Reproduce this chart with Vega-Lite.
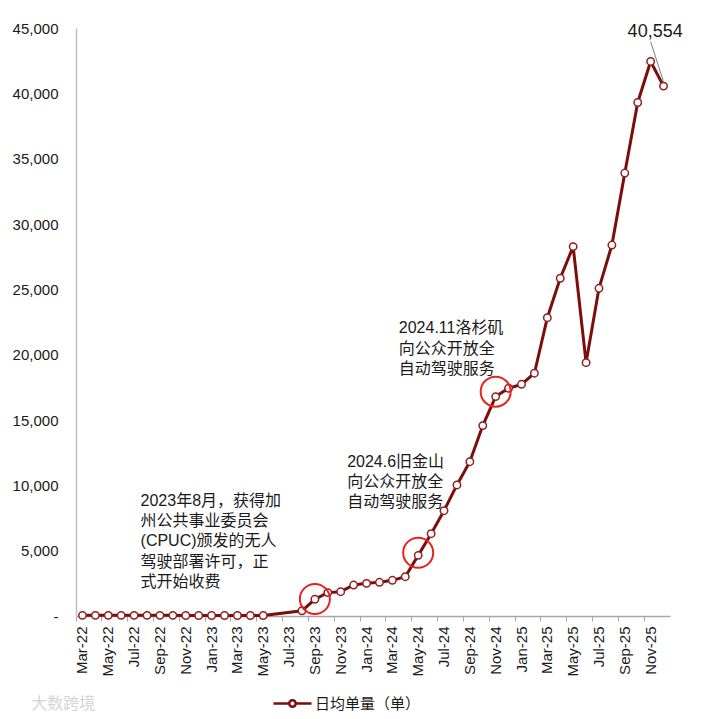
{
  "$schema": "https://vega.github.io/schema/vega-lite/v6.json",
  "width": 594,
  "height": 588,
  "autosize": "none",
  "padding": {"left": 76, "top": 28, "right": 31, "bottom": 103},
  "background": "white",
  "config": {
    "view": {"stroke": null},
    "font": "Liberation Sans, Noto Sans CJK SC",
    "axis": {"labelFont": "Liberation Sans", "labelColor": "#1a1a1a", "grid": false, "title": null}
  },
  "datasets": {
    "orders": [
      {"month": "Mar-22", "value": 50}, {"month": "Apr-22", "value": 50}, {"month": "May-22", "value": 50},
      {"month": "Jun-22", "value": 50}, {"month": "Jul-22", "value": 50}, {"month": "Aug-22", "value": 50},
      {"month": "Sep-22", "value": 50}, {"month": "Oct-22", "value": 50}, {"month": "Nov-22", "value": 40},
      {"month": "Dec-22", "value": 40}, {"month": "Jan-23", "value": 40}, {"month": "Feb-23", "value": 40},
      {"month": "Mar-23", "value": 40}, {"month": "Apr-23", "value": 40}, {"month": "May-23", "value": 40},
      {"month": "Aug-23", "value": 400}, {"month": "Sep-23", "value": 1280}, {"month": "Oct-23", "value": 1790},
      {"month": "Nov-23", "value": 1860}, {"month": "Dec-23", "value": 2370}, {"month": "Jan-24", "value": 2500},
      {"month": "Feb-24", "value": 2580}, {"month": "Mar-24", "value": 2730}, {"month": "Apr-24", "value": 3010},
      {"month": "May-24", "value": 4640}, {"month": "Jun-24", "value": 6300}, {"month": "Jul-24", "value": 8060},
      {"month": "Aug-24", "value": 10030}, {"month": "Sep-24", "value": 11810}, {"month": "Oct-24", "value": 14570},
      {"month": "Nov-24", "value": 16790}, {"month": "Dec-24", "value": 17430}, {"month": "Jan-25", "value": 17730},
      {"month": "Feb-25", "value": 18580}, {"month": "Mar-25", "value": 22830}, {"month": "Apr-25", "value": 25850},
      {"month": "May-25", "value": 28270}, {"month": "Jun-25", "value": 19390}, {"month": "Jul-25", "value": 25080},
      {"month": "Aug-25", "value": 28390}, {"month": "Sep-25", "value": 33900}, {"month": "Oct-25", "value": 39300},
      {"month": "Nov-25", "value": 42440}, {"month": "Dec-25", "value": 40554}
    ],
    "circles": [
      {"month": "Sep-23", "value": 1300},
      {"month": "May-24", "value": 4840},
      {"month": "Nov-24", "value": 17170}
    ],
    "notes": [
      {"month": "Aug-22", "value": 8824, "text": "2023年8月，获得加\n州公共事业委员会\n(CPUC)颁发的无人\n驾驶部署许可，正\n式开始收费"},
      {"month": "Dec-23", "value": 11808, "text": "2024.6旧金山\n向公众开放全\n自动驾驶服务"},
      {"month": "Apr-24", "value": 22017, "text": "2024.11洛杉矶\n向公众开放全\n自动驾驶服务"}
    ],
    "leader": [
      {"month": "Nov-25", "value": 43950},
      {"month": "Dec-25", "value": 40890}
    ],
    "lastlabel": [
      {"month": "Nov-25", "value": 44717, "text": "40,554"}
    ],
    "watermark": [
      {"month": "Apr-22", "value": -6700, "text": "大数跨境"}
    ]
  },
  "encoding": {
    "x": {
      "field": "month", "type": "ordinal", "sort": null, "bandPosition": 0.5,
      "scale": {"type": "band", "paddingInner": 0, "paddingOuter": 0,
        "domain": ["Mar-22","Apr-22","May-22","Jun-22","Jul-22","Aug-22","Sep-22","Oct-22","Nov-22","Dec-22","Jan-23","Feb-23","Mar-23","Apr-23","May-23","Jun-23","Jul-23","Aug-23","Sep-23","Oct-23","Nov-23","Dec-23","Jan-24","Feb-24","Mar-24","Apr-24","May-24","Jun-24","Jul-24","Aug-24","Sep-24","Oct-24","Nov-24","Dec-24","Jan-25","Feb-25","Mar-25","Apr-25","May-25","Jun-25","Jul-25","Aug-25","Sep-25","Oct-25","Nov-25","Dec-25"]},
      "axis": {
        "values": ["Mar-22","May-22","Jul-22","Sep-22","Nov-22","Jan-23","Mar-23","May-23","Jul-23","Sep-23","Nov-23","Jan-24","Mar-24","May-24","Jul-24","Sep-24","Nov-24","Jan-25","Mar-25","May-25","Jul-25","Sep-25","Nov-25"],
        "labelAngle": -90, "labelAlign": "right", "labelBaseline": "middle",
        "labelFontSize": 15, "labelPadding": 5, "labelOverlap": false,
        "ticks": true, "tickSize": 5, "tickColor": "#a6a6a6", "bandPosition": 0,
        "domainColor": "#a6a6a6", "domainWidth": 1.5
      }
    },
    "y": {
      "field": "value", "type": "quantitative",
      "scale": {"domain": [0, 45000], "nice": false, "zero": true},
      "axis": {
        "values": [0, 5000, 10000, 15000, 20000, 25000, 30000, 35000, 40000, 45000],
        "labelExpr": "datum.value == 0 ? '-\u00a0\u00a0' : format(datum.value, ',')",
        "labelFontSize": 15, "ticks": false, "labelPadding": 18,
        "domainColor": "#bfbfbf", "domainWidth": 1.5
      }
    }
  },
  "layer": [
    {
      "data": {"name": "orders"},
      "mark": {"type": "line", "strokeWidth": 3},
      "encoding": {
        "stroke": {
          "datum": "日均单量（单）",
          "scale": {"range": ["#7b0d0d"]},
          "legend": {
            "title": null, "orient": "none", "legendX": 196, "legendY": 655,
            "symbolType": "M-1,0H-0.17M0.17,0H1M-0.17,0A0.17,0.17,0,1,0,0.17,0A0.17,0.17,0,1,0,-0.17,0Z",
            "symbolSize": 1444, "symbolStrokeWidth": 2.5, "symbolFillColor": "white",
            "labelFontSize": 15, "labelFont": "Noto Sans CJK SC", "labelColor": "#1a1a1a", "labelOffset": 2,
            "encode": {"symbols": {"update": {"fill": {"value": "white"}, "stroke": {"value": "#7b0d0d"}, "strokeWidth": {"value": 2.5}}}}
          }
        }
      }
    },
    {
      "data": {"name": "orders"},
      "mark": {"type": "point", "shape": "circle", "filled": true, "fill": "white", "stroke": "#8e2020", "strokeWidth": 1.5, "size": 55, "opacity": 1}
    },
    {
      "data": {"name": "circles"},
      "mark": {"type": "point", "shape": "circle", "filled": false, "stroke": "#e8221c", "strokeWidth": 2, "size": 900, "opacity": 1}
    },
    {
      "data": {"name": "notes"},
      "mark": {"type": "text", "align": "left", "baseline": "middle", "fontSize": 16, "lineHeight": 20.3, "lineBreak": "\n", "letterSpacing": 1.3, "color": "#1a1a1a", "font": "Liberation Sans, Noto Sans CJK SC"},
      "encoding": {
        "x": {"field": "month", "type": "ordinal", "sort": null, "bandPosition": 0,
          "scale": {"type": "band", "paddingInner": 0, "paddingOuter": 0,
            "domain": ["Mar-22","Apr-22","May-22","Jun-22","Jul-22","Aug-22","Sep-22","Oct-22","Nov-22","Dec-22","Jan-23","Feb-23","Mar-23","Apr-23","May-23","Jun-23","Jul-23","Aug-23","Sep-23","Oct-23","Nov-23","Dec-23","Jan-24","Feb-24","Mar-24","Apr-24","May-24","Jun-24","Jul-24","Aug-24","Sep-24","Oct-24","Nov-24","Dec-24","Jan-25","Feb-25","Mar-25","Apr-25","May-25","Jun-25","Jul-25","Aug-25","Sep-25","Oct-25","Nov-25","Dec-25"]}},
        "text": {"field": "text"}
      }
    },
    {
      "data": {"name": "leader"},
      "mark": {"type": "line", "stroke": "#7f7f7f", "strokeWidth": 1}
    },
    {
      "data": {"name": "lastlabel"},
      "mark": {"type": "text", "align": "center", "baseline": "middle", "fontSize": 18, "color": "#1a1a1a", "font": "Liberation Sans"},
      "encoding": {
        "x": {"field": "month", "type": "ordinal", "sort": null, "bandPosition": 0.85,
          "scale": {"type": "band", "paddingInner": 0, "paddingOuter": 0,
            "domain": ["Mar-22","Apr-22","May-22","Jun-22","Jul-22","Aug-22","Sep-22","Oct-22","Nov-22","Dec-22","Jan-23","Feb-23","Mar-23","Apr-23","May-23","Jun-23","Jul-23","Aug-23","Sep-23","Oct-23","Nov-23","Dec-23","Jan-24","Feb-24","Mar-24","Apr-24","May-24","Jun-24","Jul-24","Aug-24","Sep-24","Oct-24","Nov-24","Dec-24","Jan-25","Feb-25","Mar-25","Apr-25","May-25","Jun-25","Jul-25","Aug-25","Sep-25","Oct-25","Nov-25","Dec-25"]}},
        "text": {"field": "text"}
      }
    },
    {
      "data": {"name": "watermark"},
      "mark": {"type": "text", "align": "right", "baseline": "middle", "fontSize": 16, "color": "#d4d4d4", "font": "Noto Sans CJK SC"},
      "encoding": {"text": {"field": "text"}}
    }
  ]
}
